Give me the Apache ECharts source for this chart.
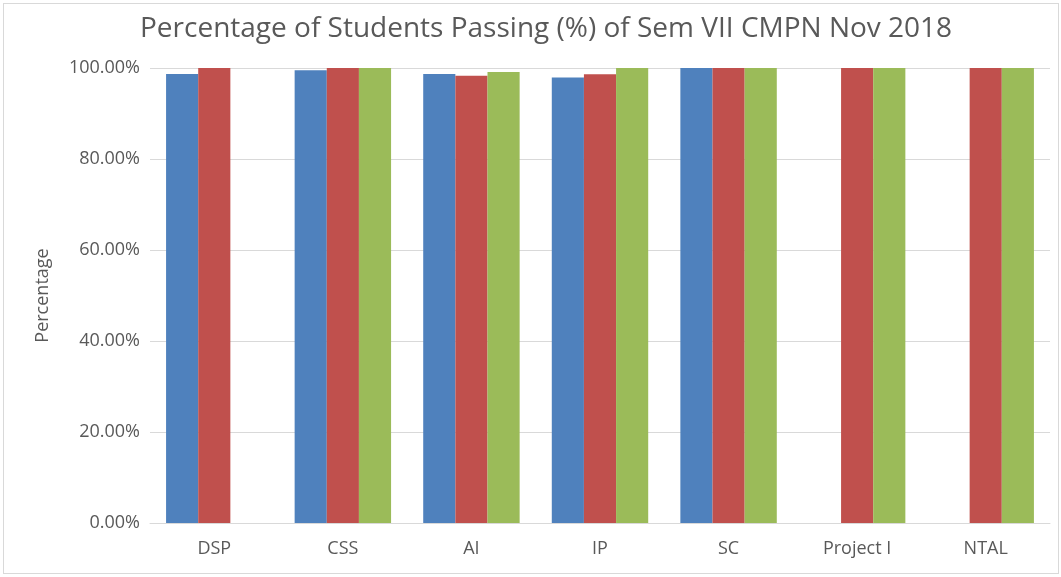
<!DOCTYPE html>
<html><head><meta charset="utf-8">
<script src="https://cdn.jsdelivr.net/npm/echarts@6/dist/echarts.min.js"></script>
<style>html,body{margin:0;padding:0;background:#fff;}#c{position:absolute;left:0;top:0;width:1061px;height:577px;}
#b{position:absolute;left:3px;top:3px;width:1056px;height:571px;border:1px solid #d9d9d9;box-sizing:border-box;}</style>
</head><body><div id="b"></div><div id="c"></div>
<script>
const categories = ["DSP","CSS","AI","IP","SC","Project I","NTAL"];
const series1 = [98.7, 99.5, 98.7, 97.9, 100, null, null];
const series2 = [100, 100, 98.3, 98.6, 100, 100, 100];
const series3 = [null, 100, 99.1, 100, 100, 100, 100];
const yTicks = [0, 20, 40, 60, 80, 100];

const chart = echarts.init(document.getElementById('c'));
const font = "'Open Sans', sans-serif";
function s(name, data, color){
  return {name, type:'bar', data, barGap:'0%', barCategoryGap:'25%',
    itemStyle:{color}};
}
chart.setOption({
  animation:false,
  title:{text:'Percentage of Students Passing (%) of Sem VII CMPN Nov 2018', left:135, top:10,
    textStyle:{fontFamily:font, fontSize:28, fontWeight:'normal', color:'#595959'}},
  grid:{left:150, right:11, top:68, bottom:54},
  xAxis:{type:'category', data:categories,
    axisLine:{lineStyle:{color:'#d9d9d9'}}, axisTick:{show:false},
    axisLabel:{color:'#595959', fontFamily:font, fontSize:18, margin:17}},
  yAxis:{type:'value', min:yTicks[0], max:yTicks[yTicks.length-1], interval:20,
    name:'Percentage', nameLocation:'middle', nameGap:98, nameRotate:90,
    nameTextStyle:{color:'#595959', fontFamily:font, fontSize:18},
    axisLine:{show:false}, axisTick:{show:false},
    axisLabel:{color:'#595959', fontFamily:font, fontSize:18, margin:10,
      formatter:v=>v.toFixed(2)+'%'},
    splitLine:{lineStyle:{color:'#d9d9d9'}}},
  series:[s('Series 1',series1,'#4F81BD'), s('Series 2',series2,'#C0504D'), s('Series 3',series3,'#9BBB59')]
});
</script></body></html>
